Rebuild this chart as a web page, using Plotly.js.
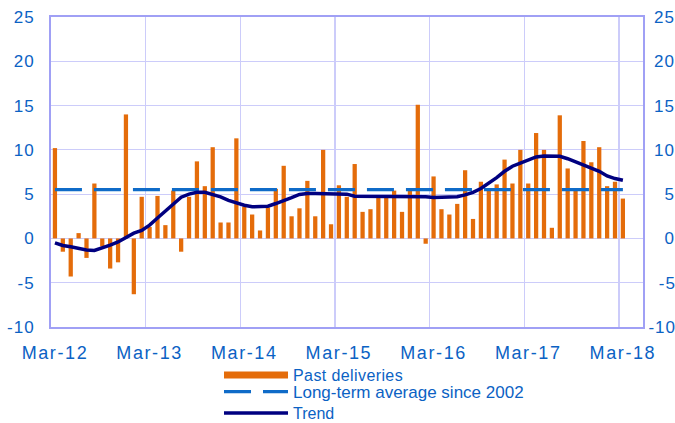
<!DOCTYPE html>
<html><head><meta charset="utf-8">
<script src="https://cdn.plot.ly/plotly-3.0.1.min.js"></script>
<style>
html,body{margin:0;padding:0;background:#fff;}
#chart{width:675px;height:423px;}
.xtick text{letter-spacing:1.6px;}
.ytick text,.y2tick text{letter-spacing:1px;}
.legendtext{letter-spacing:0.4px;}
</style></head><body><div id="chart"></div>
<script>
const months = [
 'Mar-12','Apr-12','May-12','Jun-12','Jul-12','Aug-12','Sep-12','Oct-12','Nov-12','Dec-12','Jan-13','Feb-13',
 'Mar-13','Apr-13','May-13','Jun-13','Jul-13','Aug-13','Sep-13','Oct-13','Nov-13','Dec-13','Jan-14','Feb-14',
 'Mar-14','Apr-14','May-14','Jun-14','Jul-14','Aug-14','Sep-14','Oct-14','Nov-14','Dec-14','Jan-15','Feb-15',
 'Mar-15','Apr-15','May-15','Jun-15','Jul-15','Aug-15','Sep-15','Oct-15','Nov-15','Dec-15','Jan-16','Feb-16',
 'Mar-16','Apr-16','May-16','Jun-16','Jul-16','Aug-16','Sep-16','Oct-16','Nov-16','Dec-16','Jan-17','Feb-17',
 'Mar-17','Apr-17','May-17','Jun-17','Jul-17','Aug-17','Sep-17','Oct-17','Nov-17','Dec-17','Jan-18','Feb-18',
 'Mar-18'];
const pastDeliveries = [
 10.2,-1.5,-4.3,0.6,-2.2,6.2,-0.9,-3.4,-2.7,14.0,-6.3,4.7,
 1.3,4.8,1.5,5.4,-1.5,4.7,8.7,5.9,10.3,1.8,1.8,11.3,
 3.6,2.7,0.9,3.5,5.6,8.2,2.5,3.4,6.5,2.5,10.0,1.6,
 6.0,4.7,8.4,3.0,3.3,4.7,4.7,5.4,3.0,5.6,15.1,-0.6,
 7.0,3.3,2.7,3.9,7.7,2.2,6.4,5.6,6.1,8.9,6.2,10.0,
 6.2,11.9,10.0,1.2,13.9,7.9,5.6,11.0,8.6,10.3,5.9,6.4,4.5];
const trend = [
 -0.5,-0.8,-0.95,-1.15,-1.3,-1.35,-1.1,-0.75,-0.4,0.15,0.6,0.9,
 1.5,2.3,3.1,3.9,4.65,5.0,5.2,5.2,5.0,4.7,4.3,4.0,
 3.75,3.57,3.57,3.64,3.94,4.24,4.6,4.96,5.07,5.07,5.07,5.07,
 5.05,5.0,4.77,4.77,4.77,4.77,4.77,4.77,4.77,4.77,4.77,4.7,
 4.62,4.62,4.62,4.7,4.92,5.2,5.63,6.2,6.87,7.58,8.15,8.5,
 8.9,9.2,9.3,9.3,9.27,9.0,8.64,8.35,8.0,7.58,7.06,6.76,6.57];
const longTermAverage = 5.5;
const yTickValues = [-10,-5,0,5,10,15,20,25];
const yTickLabels = ['-10','-5','0','5','10','15','20','25'];
const seriesNames = ['Past deliveries','Long-term average since 2002','Trend'];

const xIdx = months.map((m, i) => i);
const xTickVals = xIdx.filter(i => months[i].startsWith('Mar'));
const xTickText = xTickVals.map(i => months[i]);
// right-axis labels right-aligned by padding with figure/punctuation spaces
const padRight = s => {
  const w = s.length === 3 ? 0 : (s.length === 2 ? (s[0] === '-' ? 1 : 0.5) : 1.5);
  return (w >= 1 ? '\u2007' : '') + (w === 0.5 || w === 1.5 ? '\u2008' : '') + s;
};
const yTickLabels2 = yTickLabels.map(padRight);

const orange = '#E46C0A', blue = '#0F6BC8', navy = '#000080', txt = '#0B62C4';
const gridColor = '#CCCCFA', frameColor = '#A0A0F5';
const font = {family: 'Liberation Sans, Arial, sans-serif', color: txt};

const traces = [
  {type: 'bar', x: xIdx, y: pastDeliveries, name: seriesNames[0], marker: {color: orange},
   width: 0.54, showlegend: false, hoverinfo: 'skip'},
  {type: 'scatter', mode: 'lines', x: [null], y: [null], name: seriesNames[0], legend: 'legend',
   line: {color: orange, width: 7}},
  {type: 'scatter', mode: 'lines', x: [xIdx[0], xIdx[xIdx.length - 1]],
   y: [longTermAverage, longTermAverage], name: seriesNames[1], legend: 'legend2',
   line: {color: blue, width: 3.2, dash: '27px,12px'}},
  {type: 'scatter', mode: 'lines', x: xIdx, y: trend, name: seriesNames[2], yaxis: 'y2', legend: 'legend3',
   line: {color: navy, width: 3.5}}
];

const legendBase = {xref: 'paper', yref: 'paper', x: 0.2838, xanchor: 'left', yanchor: 'middle',
  orientation: 'v', font: {size: 16, color: txt}, bgcolor: 'rgba(0,0,0,0)', itemwidth: 64};

const layout = {
  width: 675, height: 423,
  margin: {l: 51, r: 32, t: 17, b: 96, autoexpand: false},
  paper_bgcolor: '#fff', plot_bgcolor: '#fff',
  font: font,
  showlegend: true,
  xaxis: {range: [-0.5, 74.55], tickmode: 'array', tickvals: xTickVals, ticktext: xTickText,
    showgrid: false, zeroline: false, showline: true, linecolor: frameColor, linewidth: 2, mirror: true,
    ticks: '', tickfont: {size: 18, color: txt}, ticklabelstandoff: 8, automargin: false,
    minor: {tick0: -0.5, dtick: 12, showgrid: true, gridcolor: gridColor, gridwidth: 1.2, ticks: ''}},
  yaxis: {range: [-10, 25], tickmode: 'array', tickvals: yTickValues, ticktext: yTickLabels,
    showgrid: true, gridcolor: gridColor, gridwidth: 1.2, zeroline: false, automargin: false,
    showline: true, linecolor: frameColor, linewidth: 2, ticks: '',
    tickfont: {size: 17, color: txt}, ticklabelstandoff: 11},
  yaxis2: {range: [-10, 25], overlaying: 'y', side: 'right', tickmode: 'array',
    tickvals: yTickValues, ticktext: yTickLabels2, showgrid: false, zeroline: false, automargin: false,
    showline: true, linecolor: frameColor, linewidth: 2, ticks: '',
    tickfont: {size: 17, color: txt}, ticklabelstandoff: 0},
  legend: Object.assign({}, legendBase, {y: (327 - 375) / 310}),
  legend2: Object.assign({}, legendBase, {y: (327 - 392) / 310, font: {size: 17, color: txt}}),
  legend3: Object.assign({}, legendBase, {y: (327 - 413) / 310}),
  bargap: 0.45
};

Plotly.newPlot('chart', traces, layout, {staticPlot: true, displayModeBar: false});
</script></body></html>
